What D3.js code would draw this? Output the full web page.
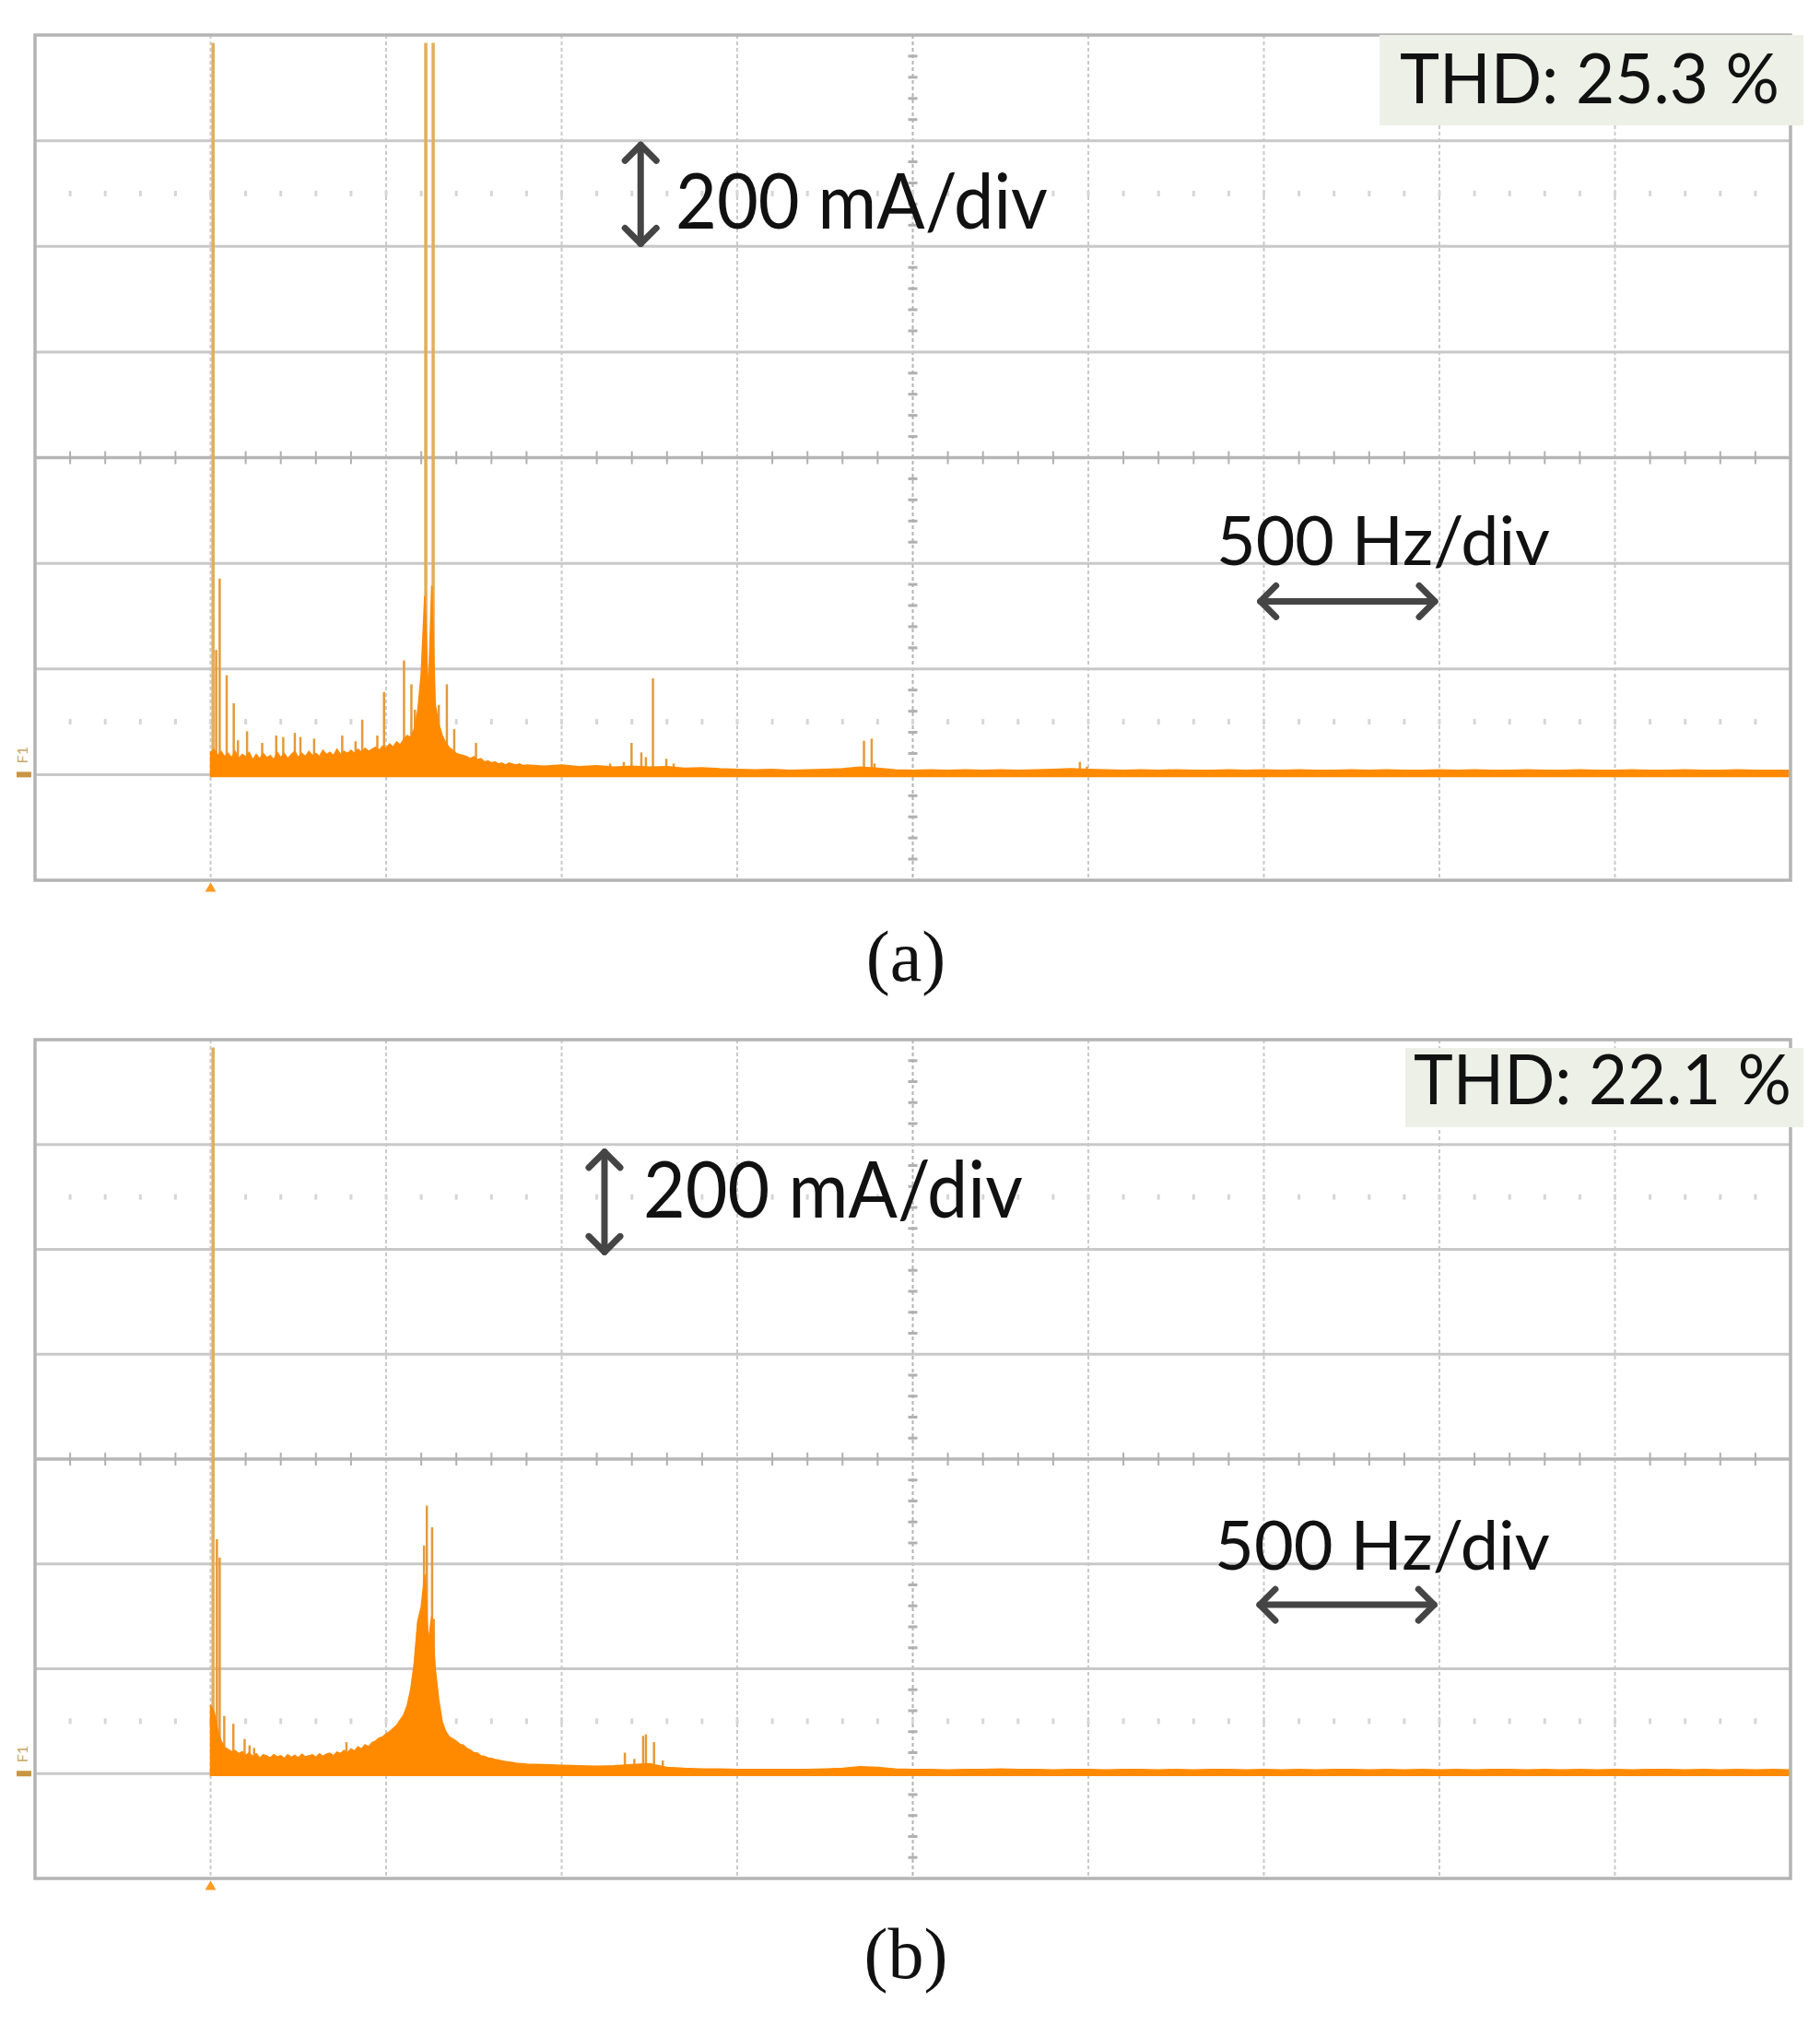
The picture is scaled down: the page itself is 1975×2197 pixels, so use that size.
<!DOCTYPE html>
<html>
<head>
<meta charset="utf-8">
<script src="https://cdn.jsdelivr.net/npm/d3@7"></script>
<style>
  body { margin: 0; background: #fff; }
  svg { display: block; }
</style>
</head>
<body>
<svg id="canvas"></svg>
<script>
let width = 1975
let height = 2197

// 500 Hz/div, 200 mA/div, spectrum starts at the second vertical line
let freqTicks = [-500, 0, 500, 1000, 1500, 2000, 2500, 3000, 3500, 4000, 4500]
let ampTicks = [-200, 0, 200, 400, 600, 800, 1000, 1200, 1400]

// noise floor of the spectrum, 10 Hz bins from 0 Hz to 900 Hz (mA)
let noiseFineA = [
  42, 48, 36, 44, 34, 40, 32, 44, 30, 38,
  34, 42, 28, 38, 30, 40, 32, 36, 28, 42,
  32, 40, 30, 38, 44, 32, 40, 34, 44, 36,
  40, 34, 46, 38, 42, 36, 48, 38, 44, 40,
  46, 40, 48, 42, 50, 44, 48, 52, 46, 54,
  50, 58, 52, 62, 56, 66, 74, 70, 86, 120,
  190, 338, 144, 358, 132, 96, 74, 60, 51, 46,
  40, 38, 36, 34, 30, 34, 28, 30, 24, 26,
  22, 24, 20, 22, 18, 22, 20, 18, 20, 17,
  18
]
// 50 Hz bins from 950 Hz to 4500 Hz (mA)
let noiseCoarseA = [
  16, 18, 15, 17, 14, 16, 14, 15, 12, 13, 11,
  10, 9, 10, 8, 9, 10, 11, 14, 12, 9, 8, 9, 8, 9, 8, 9, 8, 9, 10, 11,
  10, 9, 8, 9, 8, 9, 8, 8, 9, 8, 9, 8, 9, 8, 8, 9, 8, 9, 8, 8,
  9, 8, 9, 8, 8, 9, 8, 8, 9, 8, 8, 9, 8, 8, 9, 8, 8, 9, 8, 8, 8
]
// discrete spectral lines [Hz, mA]; the tallest ones are clipped by the screen
let spikesA = [
  [7, 1385], [16, 236], [26, 371], [46, 188], [66, 135], [78, 65], [104, 82],
  [147, 60], [187, 74], [207, 71], [240, 79], [256, 71], [295, 68], [375, 74],
  [413, 63], [432, 104], [475, 74], [494, 156], [551, 216], [572, 171], [582, 123],
  [613, 1385], [634, 1385], [650, 132], [673, 171], [694, 86], [756, 60],
  [1138, 21], [1177, 24], [1199, 60], [1227, 42], [1240, 33], [1260, 182],
  [1298, 30], [1319, 21], [1861, 64], [1883, 68], [1891, 21], [2476, 24], [2496, 15]
]

let noiseFineB = [
  131, 118, 84, 62, 50, 46, 42, 44, 38, 42,
  34, 40, 32, 38, 30, 36, 34, 30, 36, 32,
  34, 29, 36, 31, 35, 30, 37, 32, 34, 36,
  31, 38, 33, 37, 39, 34, 41, 38, 44, 40,
  47, 43, 51, 47, 55, 51, 59, 62, 68, 70,
  76, 80, 86, 92, 102, 112, 130, 160, 210, 290,
  318, 380, 250, 300, 200, 140, 98, 80, 70, 66,
  62, 56, 54, 48, 45, 40, 39, 34, 33, 30,
  29, 27, 26, 24, 23, 22, 21, 20, 19, 19,
  18
]
let noiseCoarseB = [
  17, 16, 15, 14, 15, 17, 19, 12, 10, 9, 9,
  8, 8, 8, 8, 8, 9, 10, 13, 12, 9, 8, 8, 7, 8, 8, 9, 8, 8, 7, 8,
  8, 7, 8, 8, 7, 8, 7, 8, 8, 7, 8, 7, 8, 7, 8, 8, 7, 8, 7, 8,
  7, 8, 7, 8, 8, 7, 8, 7, 8, 7, 8, 7, 8, 8, 7, 8, 7, 8, 7, 8, 7
]
let spikesB = [
  [7, 1385], [18, 447], [26, 412], [39, 110], [65, 95], [97, 66], [111, 54],
  [124, 49], [387, 60], [608, 435], [616, 511], [631, 470], [636, 295],
  [1180, 40], [1207, 28], [1232, 72], [1240, 75], [1263, 60], [1288, 25]
]

let thdLabels = ["THD: 25.3 %", "THD: 22.1 %"]
let captions = ["(a)", "(b)"]
let ampLabel = "200 mA/div"
let freqLabel = "500 Hz/div"

let svg = d3.select("#canvas")
    .attr("width", width)
    .attr("height", height)

svg.append("rect")
    .attr("width", width)
    .attr("height", height)
    .attr("fill", "#fff")

let panels = [
  {
    id: "a", top: 38, bottom: 955,
    fine: noiseFineA, coarse: noiseCoarseA, spikes: spikesA,
    thd: thdLabels[0], thdBox: [1497, 38, 460, 98], thdText: [1519, 112, 412],
    amp: [733, 248, 404, 84], ampArrow: [1225, 1005, 1192],
    freq: [1320, 613, 362], freqArrow: [2990, 3487, 328],
    caption: captions[0], captionY: 1064
  },
  {
    id: "b", top: 1128, bottom: 2038,
    fine: noiseFineB, coarse: noiseCoarseB, spikes: spikesB,
    thd: thdLabels[1], thdBox: [1525, 1137, 432, 86], thdText: [1534, 1198, 410],
    amp: [698, 1321, 412, 85], ampArrow: [1122, 995, 1186],
    freq: [1318, 1703, 364], freqArrow: [2988, 3485, 322],
    caption: captions[1], captionY: 2146
  }
]

let noisePoints = (fine, coarse) =>
  fine.map((v, i) => [i * 10, v]).concat(coarse.map((v, i) => [950 + i * 50, v]))

let drawArrow = (g, x1, y1, x2, y2, vertical) => {
  let s = 17
  g.append("line")
    .attr("x1", x1).attr("y1", y1).attr("x2", x2).attr("y2", y2)
  let heads = vertical
    ? [[[x1 - s, y1 + s], [x1, y1], [x1 + s, y1 + s]], [[x2 - s, y2 - s], [x2, y2], [x2 + s, y2 - s]]]
    : [[[x1 + s, y1 - s], [x1, y1], [x1 + s, y1 + s]], [[x2 - s, y2 - s], [x2, y2], [x2 - s, y2 + s]]]
  heads.forEach((h) => {
    g.append("path").attr("d", d3.line()(h)).attr("fill", "none")
  })
}

let drawPanel = (p) => {
  let xScale = d3.scaleLinear().domain([-500, 4500]).range([38, 1943])
  let yScale = d3.scaleLinear().domain([-200, 1400]).range([p.bottom, p.top])
  let g = svg.append("g")

  g.append("clipPath")
    .attr("id", "clip-" + p.id)
    .append("rect")
    .attr("x", xScale(-500))
    .attr("y", yScale(1400))
    .attr("width", xScale(4500) - xScale(-500))
    .attr("height", yScale(-200) - yScale(1400))

  // vertical divisions, dotted
  g.selectAll(".vgrid")
    .data(freqTicks.slice(1, -1))
    .enter()
    .append("line")
    .attr("x1", (d) => xScale(d))
    .attr("x2", (d) => xScale(d))
    .attr("y1", yScale(1400))
    .attr("y2", yScale(-200))
    .attr("stroke", (d) => d == 2000 ? "#b4b4b4" : "#cacaca")
    .attr("stroke-width", 2)
    .attr("stroke-dasharray", "4,3")

  // horizontal divisions, solid
  g.selectAll(".hgrid")
    .data(ampTicks.slice(1, -1))
    .enter()
    .append("line")
    .attr("x1", xScale(-500))
    .attr("x2", xScale(4500))
    .attr("y1", (d) => yScale(d))
    .attr("y2", (d) => yScale(d))
    .attr("stroke", (d) => d == 600 ? "#b6b6b6" : "#c8c8c8")
    .attr("stroke-width", (d) => d == 600 ? 3.5 : 3)

  // sub-division ticks on the centre lines
  let minorFreq = d3.range(-500, 4500, 100).filter((d) => d % 500 != 0)
  g.selectAll(".xminor")
    .data(minorFreq)
    .enter()
    .append("line")
    .attr("x1", (d) => xScale(d))
    .attr("x2", (d) => xScale(d))
    .attr("y1", yScale(600) - 7)
    .attr("y2", yScale(600) + 7)
    .attr("stroke", "#b0b0b0")
    .attr("stroke-width", 2)

  let minorAmp = d3.range(-200, 1400, 40).filter((d) => d % 200 != 0)
  g.selectAll(".yminor")
    .data(minorAmp)
    .enter()
    .append("line")
    .attr("x1", xScale(2000) - 5)
    .attr("x2", xScale(2000) + 5)
    .attr("y1", (d) => yScale(d))
    .attr("y2", (d) => yScale(d))
    .attr("stroke", "#b0b0b0")
    .attr("stroke-width", 3)

  // faint dotted rows
  let dotFreq = d3.range(-400, 4500, 100)
  ;[1100, 100].forEach((row) => {
    g.selectAll(".dots" + row)
      .data(dotFreq)
      .enter()
      .append("rect")
      .attr("x", (d) => xScale(d) - 1.5)
      .attr("y", yScale(row) - 3)
      .attr("width", 3)
      .attr("height", 6)
      .attr("fill", "#d6d6d6")
  })

  let trace = g.append("g").attr("clip-path", "url(#clip-" + p.id + ")")

  trace.selectAll(".spike")
    .data(p.spikes)
    .enter()
    .append("line")
    .attr("x1", (d) => xScale(d[0]))
    .attr("x2", (d) => xScale(d[0]))
    .attr("y1", yScale(0))
    .attr("y2", (d) => yScale(d[1]))
    .attr("stroke", (d) => d[1] > 1000 ? "#e2ad5c" : "#e59a3a")
    .attr("stroke-width", (d) => d[1] > 1000 ? 3.5 : 2.5)

  let area = d3.area()
    .x((d) => xScale(d[0]))
    .y0(yScale(0) + 2)
    .y1((d) => yScale(d[1]))

  trace.append("path")
    .datum(noisePoints(p.fine, p.coarse))
    .attr("d", area)
    .attr("fill", "#ff8a00")
    .attr("stroke", "#ff8a00")
    .attr("stroke-width", 1.5)
    .attr("stroke-linejoin", "miter")

  // frame
  g.append("rect")
    .attr("x", xScale(-500))
    .attr("y", yScale(1400))
    .attr("width", xScale(4500) - xScale(-500))
    .attr("height", yScale(-200) - yScale(1400))
    .attr("fill", "none")
    .attr("stroke", "#b4b4b4")
    .attr("stroke-width", 3.5)

  // channel marker and trigger marker
  g.append("rect")
    .attr("x", 18).attr("y", yScale(0) - 3)
    .attr("width", 16).attr("height", 6)
    .attr("fill", "#c99545")
  g.append("text")
    .attr("transform", "translate(30," + (yScale(0) - 12) + ") rotate(-90)")
    .attr("font-family", "Lato, sans-serif")
    .attr("font-size", 16)
    .attr("fill", "#c9a86a")
    .text("F1")
  g.append("path")
    .attr("d", d3.symbol().type(d3.symbolTriangle).size(60)())
    .attr("transform", "translate(" + xScale(0) + "," + (yScale(-200) + 9) + ")")
    .attr("fill", "#ff9a22")

  // THD box
  g.append("rect")
    .attr("x", p.thdBox[0]).attr("y", p.thdBox[1])
    .attr("width", p.thdBox[2]).attr("height", p.thdBox[3])
    .attr("fill", "#edf0e6")
  g.append("text")
    .attr("x", p.thdText[0]).attr("y", p.thdText[1])
    .attr("textLength", p.thdText[2])
    .attr("lengthAdjust", "spacingAndGlyphs")
    .attr("font-family", "Lato, sans-serif")
    .attr("font-size", 76)
    .attr("fill", "#111")
    .text(p.thd)

  // scale annotations
  let arrows = g.append("g")
    .attr("stroke", "#454545")
    .attr("stroke-width", 7)
    .attr("stroke-linecap", "round")
    .attr("stroke-linejoin", "round")
  drawArrow(arrows, xScale(p.ampArrow[0]), yScale(p.ampArrow[2]), xScale(p.ampArrow[0]), yScale(p.ampArrow[1]), true)
  drawArrow(arrows, xScale(p.freqArrow[0]), yScale(p.freqArrow[2]), xScale(p.freqArrow[1]), yScale(p.freqArrow[2]), false)

  g.append("text")
    .attr("x", p.amp[0]).attr("y", p.amp[1])
    .attr("textLength", p.amp[2])
    .attr("lengthAdjust", "spacingAndGlyphs")
    .attr("font-family", "Lato, sans-serif")
    .attr("font-size", p.amp[3])
    .attr("fill", "#111")
    .text(ampLabel)
  g.append("text")
    .attr("x", p.freq[0]).attr("y", p.freq[1])
    .attr("textLength", p.freq[2])
    .attr("lengthAdjust", "spacingAndGlyphs")
    .attr("font-family", "Lato, sans-serif")
    .attr("font-size", 74)
    .attr("fill", "#111")
    .text(freqLabel)

  g.append("text")
    .attr("x", 983).attr("y", p.captionY)
    .attr("text-anchor", "middle")
    .attr("font-family", "'Liberation Serif', 'Times New Roman', serif")
    .attr("font-size", 78)
    .attr("fill", "#111")
    .text(p.caption)
}

panels.forEach(drawPanel)
</script>
</body>
</html>
